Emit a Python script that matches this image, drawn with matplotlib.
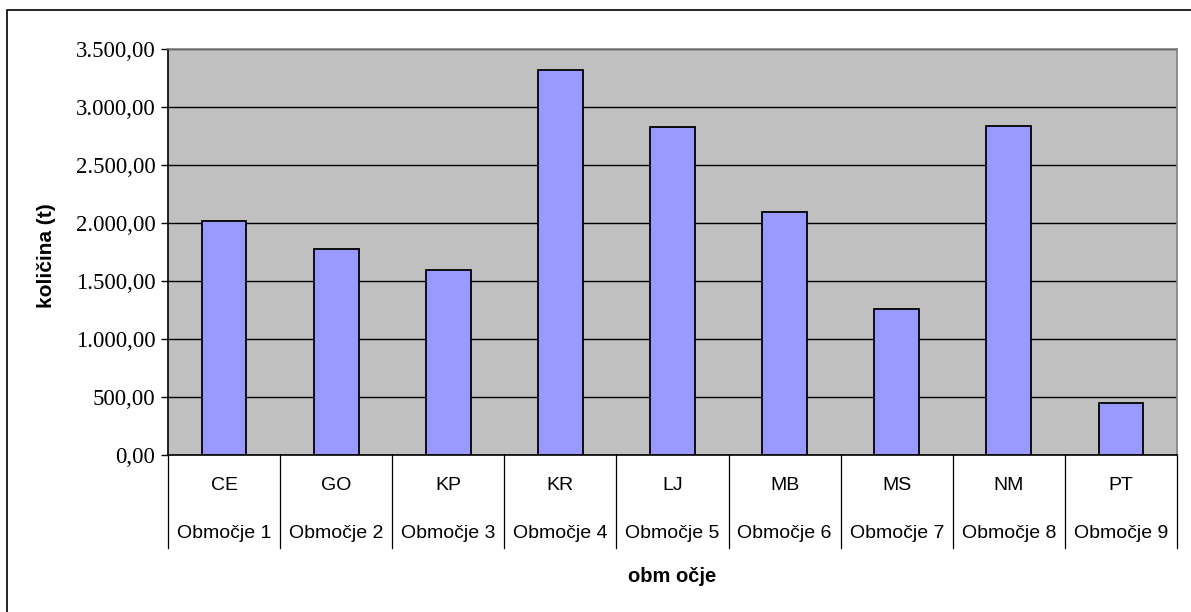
import matplotlib.pyplot as plt
from matplotlib.patches import Rectangle
from matplotlib.ticker import FuncFormatter, MultipleLocator

kode = ["CE", "GO", "KP", "KR", "LJ", "MB", "MS", "NM", "PT"]
obmocja = ["Območje 1", "Območje 2", "Območje 3", "Območje 4", "Območje 5",
           "Območje 6", "Območje 7", "Območje 8", "Območje 9"]
kolicina = [2020, 1780, 1597, 3320, 2830, 2097, 1256, 2839, 451]

W, H = 1191, 612
fig = plt.figure(figsize=(W / 100, H / 100), dpi=100)

# okvir okrog celega grafa
fig.patches.append(Rectangle((7 / W, -0.1), 1.2, 1 - 10 / H + 0.1,
                             transform=fig.transFigure, fill=False,
                             edgecolor="black", linewidth=1.2))

left, right, top, bottom = 168, 1177, 49, 455
ax = fig.add_axes([left / W, 1 - bottom / H, (right - left) / W, (bottom - top) / H])
ax.set_facecolor("#C0C0C0")

x = list(range(len(kode)))
ax.bar(x, kolicina, width=0.4, color="#9999FF", edgecolor="black", linewidth=1.3, zorder=3)

ax.set_xlim(-0.5, len(kode) - 0.5)
ax.set_ylim(0, 3500)
ax.yaxis.set_major_locator(MultipleLocator(500))
ax.yaxis.set_major_formatter(FuncFormatter(
    lambda v, p: f"{v:,.2f}".replace(",", "X").replace(".", ",").replace("X", ".")))
ax.grid(axis="y", color="black", linewidth=1.0, zorder=1)
ax.set_axisbelow(True)

for lbl in ax.get_yticklabels():
    lbl.set_family("Liberation Serif")
    lbl.set_fontsize(16.5)
ax.tick_params(axis="y", length=5, width=1, pad=4)
ax.set_xticks([])

ax.spines["left"].set_color("black")
ax.spines["bottom"].set_color("black")
ax.spines["top"].set_color("#808080")
ax.spines["right"].set_color("#808080")
for s in ax.spines.values():
    s.set_linewidth(1.2)

# dvonivojska os kategorij
tr = ax.get_xaxis_transform()
h = bottom - top
for i in range(len(kode) + 1):
    ax.plot([i - 0.5, i - 0.5], [0, -(548 - bottom) / h], transform=tr,
            color="black", linewidth=0.9, clip_on=False)
for i, (k, o) in enumerate(zip(kode, obmocja)):
    ax.text(i, -(486 - bottom) / h, k, transform=tr, ha="center", va="center",
            family="Liberation Sans", fontsize=14)
    ax.text(i, -(533 - bottom) / h, o, transform=tr, ha="center", va="center",
            family="Liberation Sans", fontsize=14)

ax.text(0.5, -(576 - bottom) / h, "obm očje", transform=ax.transAxes, ha="center",
        va="center", family="Liberation Sans", fontsize=14.5, fontweight="bold")
fig.text(47 / W, 1 - 256 / H, "količina (t)", rotation=90, ha="center", va="center",
         family="Liberation Sans", fontsize=15, fontweight="bold")

fig.savefig("out.png", dpi=100)
